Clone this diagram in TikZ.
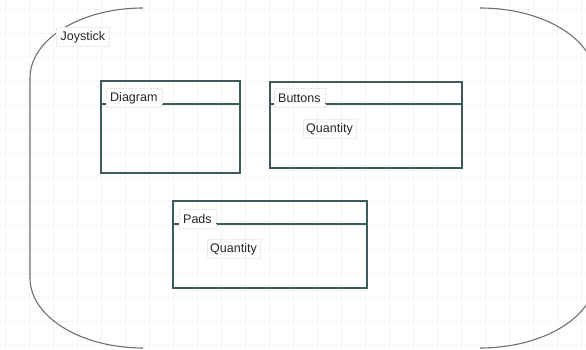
\documentclass[tikz,border=0pt]{standalone}
\usepackage{fontspec}
\setmainfont{Liberation Sans}
\definecolor{boxc}{HTML}{3E5A5A}
\definecolor{curvec}{HTML}{707070}
\definecolor{txtc}{HTML}{262626}
\begin{document}
\begin{tikzpicture}[x=1pt,y=1pt,
  classbox/.style={draw=boxc,line width=1.6pt},
  hdr/.style={draw=boxc,line width=1.4pt},
  lbl/.style={fill=white,draw=black!10,densely dotted,inner xsep=4.5pt,inner ysep=0pt,minimum height=19pt,anchor=west,text=txtc,font=\fontsize{12.5}{14}\selectfont},
  attr/.style={draw=black!9,densely dotted,inner xsep=3pt,inner ysep=0pt,minimum height=19pt,anchor=west,text=txtc,font=\fontsize{12.5}{14}\selectfont},
  outer/.style={draw=curvec,line width=1.1pt}]
\useasboundingbox (0,0) rectangle (586,350);
\fill[white] (0,0) rectangle (586,350);
\begin{scope}
\clip (0,0) rectangle (586,350);
% faint grid
\foreach \gx in {5,29,...,581} \draw[black!4,line width=0.8pt] (\gx,0) -- (\gx,350);
\foreach \gy in {5,29,...,341} \draw[black!4,line width=0.8pt] (0,\gy) -- (586,\gy);
% outer frame (joystick)
\draw[outer] (143,342) arc[start angle=90,end angle=180,x radius=113,y radius=70]
  -- (30,72) arc[start angle=180,end angle=270,x radius=113,y radius=70];
\draw[outer] (480,342) arc[start angle=90,end angle=0,x radius=115,y radius=70]
  -- (595,72) arc[start angle=0,end angle=-90,x radius=115,y radius=70];
\end{scope}
\node[lbl] (joy) at (56,313) {Joystick};
% Diagram box
\draw[classbox] (101,177) rectangle (240,269);
\coordinate (dL) at (101,246); \coordinate (dR) at (240,246);
\draw[hdr] (dL) -- (dR);
\node[lbl] (diag) at (105.5,252) {Diagram};
% Buttons box
\draw[classbox] (270,182) rectangle (462,268);
\coordinate (bL) at (270,246); \coordinate (bR) at (462,246);
\draw[hdr] (bL) -- (bR);
\node[lbl] (btn) at (273.5,252) {Buttons};
\node[attr] (bq) at (303,221) {Quantity};
% Pads box
\draw[classbox] (173,62) rectangle (367,149);
\coordinate (pL) at (173,126); \coordinate (pR) at (367,126);
\draw[hdr] (pL) -- (pR);
\node[lbl] (pads) at (178.5,131) {Pads};
\node[attr] (pq) at (207,101) {Quantity};
\end{tikzpicture}
\end{document}
